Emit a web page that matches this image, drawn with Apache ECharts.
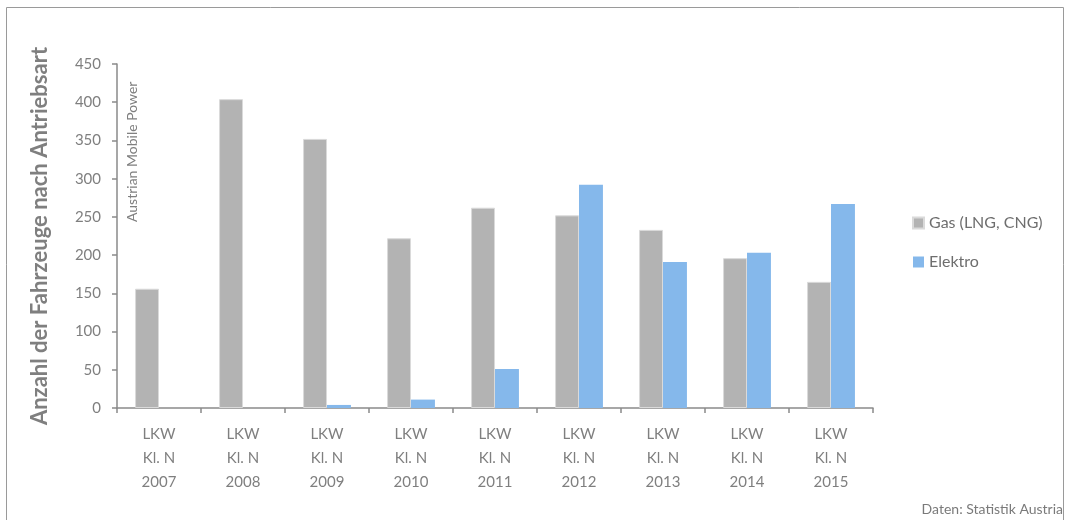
<!DOCTYPE html>
<html>
<head>
<meta charset="utf-8">
<script src="https://cdn.jsdelivr.net/npm/echarts@6/dist/echarts.min.js"></script>
<style>
  html, body { margin: 0; padding: 0; background: #fff; }
  #chart { width: 1072px; height: 520px; }
</style>
</head>
<body>
<div id="chart"></div>
<script>
// Kategorien und Werte
const years = ['2007', '2008', '2009', '2010', '2011', '2012', '2013', '2014', '2015'];
const categories = years.map(y => 'LKW\nKl. N\n' + y);
const gasValues = [156, 404, 352, 222, 262, 252, 233, 196, 165];
const elektroValues = [0, 0, 4, 11, 51, 292, 191, 203, 267];
const seriesNames = ['Gas (LNG, CNG)', 'Elektro'];

const font = 'Lato, "Open Sans", sans-serif';
const grey = '#7f7f7f';

const myChart = echarts.init(document.getElementById('chart'));

const option = {
  animation: false,
  textStyle: { fontFamily: font },
  grid: { left: 117, right: 199, top: 64, bottom: 112 },
  legend: {
    orient: 'vertical',
    left: 907,
    top: 210,
    itemWidth: 11,
    itemHeight: 11,
    itemGap: 23,
    icon: 'rect',
    data: seriesNames,
    textStyle: { fontFamily: font, fontSize: 16, color: '#6e6e6e' }
  },
  xAxis: {
    type: 'category',
    data: categories,
    axisLine: { lineStyle: { color: '#8a8a8a', width: 1.5 } },
    axisTick: { show: true, length: 5, alignWithLabel: false, lineStyle: { color: '#8a8a8a', width: 1.5 } },
    axisLabel: {
      color: grey,
      fontSize: 15,
      lineHeight: 24,
      margin: 14,
      interval: 0
    }
  },
  yAxis: {
    type: 'value',
    min: 0,
    max: 450,
    interval: 50,
    name: 'Anzahl der Fahrzeuge nach Antriebsart',
    nameLocation: 'middle',
    nameGap: 66,
    nameTextStyle: { color: grey, fontSize: 22, fontWeight: 'bold', fontFamily: font },
    axisLine: { show: true, lineStyle: { color: '#8a8a8a', width: 1.5 } },
    axisTick: { show: true, length: 5, lineStyle: { color: '#8a8a8a', width: 1.5 } },
    axisLabel: { color: grey, fontSize: 15, margin: 16 },
    splitLine: { show: false }
  },
  series: [
    {
      name: seriesNames[0],
      type: 'bar',
      data: gasValues,
      barGap: '0%',
      barCategoryGap: '43%',
      itemStyle: { color: '#b3b3b3', borderColor: '#dadada', borderWidth: 1 }
    },
    {
      name: seriesNames[1],
      type: 'bar',
      data: elektroValues,
      itemStyle: { color: '#85b8eb' }
    }
  ],
  graphic: [
    {
      type: 'rect',
      shape: { x: 6.5, y: 7.5, width: 1057, height: 530 },
      style: { fill: 'none', stroke: '#9a9a9a', lineWidth: 1 },
      silent: true
    },
    {
      type: 'text',
      x: 125,
      y: 222,
      rotation: Math.PI / 2,
      style: {
        text: 'Austrian Mobile Power',
        fill: grey,
        font: '14px ' + font
      }
    },
    {
      type: 'text',
      right: 9,
      top: 502,
      style: {
        text: 'Daten: Statistik Austria',
        fill: '#7a7a7a',
        font: '14px ' + font
      }
    }
  ]
};

myChart.setOption(option);
</script>
</body>
</html>
